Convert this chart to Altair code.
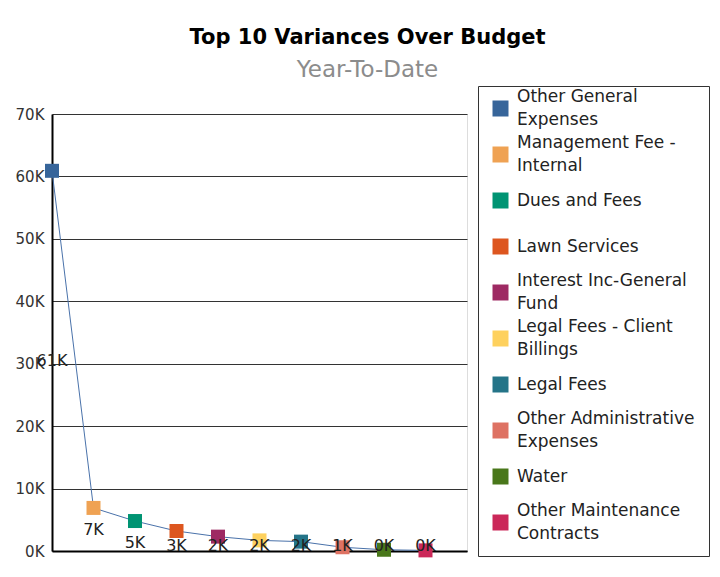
import json
import altair as alt
import pandas as pd

categories = [
    "Other General Expenses",
    "Management Fee - Internal",
    "Dues and Fees",
    "Lawn Services",
    "Interest Inc-General Fund",
    "Legal Fees - Client Billings",
    "Legal Fees",
    "Other Administrative Expenses",
    "Water",
    "Other Maintenance Contracts",
]
variances = [60900, 6900, 4800, 3200, 2300, 1700, 1500, 600, 200, 100]
colors = [
    "#37659a", "#efa253", "#009473", "#dd561f", "#9e2a63",
    "#fed15e", "#247488", "#de7263", "#49771a", "#cb2859",
]
legend_lines = [
    ["Other General", "Expenses"],
    ["Management Fee -", "Internal"],
    ["Dues and Fees"],
    ["Lawn Services"],
    ["Interest Inc-General", "Fund"],
    ["Legal Fees - Client", "Billings"],
    ["Legal Fees"],
    ["Other Administrative", "Expenses"],
    ["Water"],
    ["Other Maintenance", "Contracts"],
]
y_ticks = [0, 10000, 20000, 30000, 40000, 50000, 60000, 70000]

df = pd.DataFrame({"idx": list(range(len(categories))), "category": categories, "value": variances})

FONT = "DejaVu Sans"

label_expr = "%s[indexof(%s, datum.label)]" % (json.dumps(legend_lines), json.dumps(categories))
two_line = [c for c, l in zip(categories, legend_lines) if len(l) == 2]
baseline_expr = "indexof(%s, datum.label) >= 0 ? 'line-bottom' : 'middle'" % json.dumps(two_line)

x_enc = alt.X(
    "idx:Q",
    scale=alt.Scale(domain=[0, 10], nice=False, zero=True),
    axis=alt.Axis(labels=False, ticks=False, grid=False, domainColor="black",
                  domainWidth=2, title=None),
)
y_enc = alt.Y(
    "value:Q",
    scale=alt.Scale(domain=[0, 70000], nice=False),
    axis=alt.Axis(values=y_ticks, labelExpr="(datum.value/1000) + 'K'", ticks=False,
                  grid=True, gridColor="#333333", gridWidth=1, domainColor="black",
                  domainWidth=2, labelPadding=8, labelFontSize=15, labelFont=FONT,
                  labelColor="#333333", title=None),
)

base = alt.Chart(df)

line = base.mark_line(color="#4a72aa", strokeWidth=1).encode(x=x_enc, y=y_enc)

points = base.mark_square(size=196, filled=True, opacity=1).encode(
    x="idx:Q",
    y="value:Q",
    color=alt.Color(
        "category:N",
        scale=alt.Scale(domain=categories, range=colors),
        legend=alt.Legend(
            orient="none", legendX=426, legendY=-28, title=None,
            symbolType="square", symbolSize=256, symbolStrokeWidth=0,
            labelFontSize=17, labelFont=FONT, labelColor="#222222",
            labelExpr=label_expr, labelBaseline=alt.ExprRef(expr=baseline_expr),
            labelOffset=8, labelLimit=400,
            padding=14, rowPadding=5, gridAlign="all",
            strokeColor="#333333", fillColor="white",
        ),
    ),
)

labels = base.transform_calculate(
    label="round(datum.value/1000) + 'K'",
    ly="datum.idx == 0 ? datum.value/2 : max(datum.value - 3500, 800)",
).mark_text(font=FONT, fontSize=16, color="#222222", align="center", baseline="middle").encode(
    x="idx:Q", y="ly:Q", text="label:N"
)

chart = alt.layer(line, points, labels).properties(
    width=415,
    height=437,
    padding={"left": 44, "top": 106, "right": 244, "bottom": 12},
    autosize=alt.AutoSizeParams(type="none"),
    background="white",
    title=alt.TitleParams(
        text="Top 10 Variances Over Budget",
        subtitle="Year-To-Date",
        font=FONT, fontSize=21, fontWeight="bold", color="black",
        subtitleFont=FONT, subtitleFontSize=23, subtitleColor="#8c8c8c",
        anchor="middle", dx=108, offset=4, subtitlePadding=11,
    ),
).configure_view(stroke="#888888", strokeWidth=1).configure(
    style={"guide-label": {"lineHeight": 23}}
)

chart.save("out.html", embed_options={"renderer": "svg", "actions": False})
